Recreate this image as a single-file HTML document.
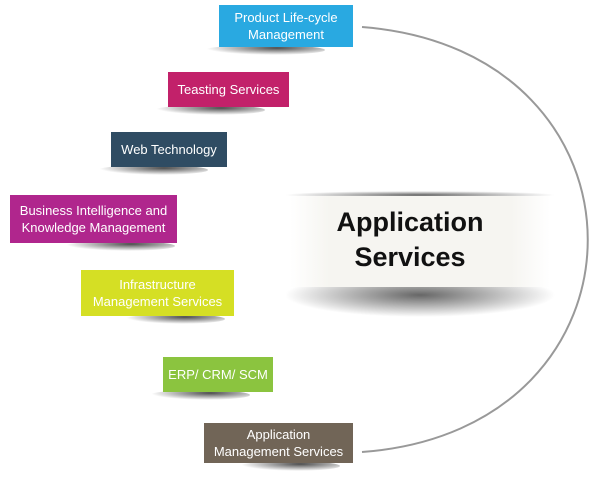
<!DOCTYPE html>
<html><head><meta charset="utf-8"><style>
body{margin:0;width:592px;height:482px;background:#fff;position:relative;overflow:hidden;font-family:"Liberation Sans",sans-serif}
.b{position:absolute;color:#fff;font-size:13px;line-height:17px;display:flex;align-items:center;justify-content:center;text-align:center;box-sizing:border-box}
.s{position:absolute;height:10px;border-radius:50%;background:radial-gradient(ellipse at 60% 30%,rgba(0,0,0,.7),rgba(0,0,0,0) 70%)}
</style></head><body>
<svg width="592" height="482" style="position:absolute;left:0;top:0">
<path d="M362,27 C 663,50 663,430 362,452" fill="none" stroke="#999" stroke-width="2"/>
<defs>
<radialGradient id="g1" cx="0.5" cy="0.5" r="0.5"><stop offset="0" stop-color="#000" stop-opacity=".6"/><stop offset="1" stop-color="#000" stop-opacity="0"/></radialGradient>
<linearGradient id="pg" x1="0" x2="1"><stop offset="0" stop-color="#fff"/><stop offset=".15" stop-color="#f6f5f1"/><stop offset=".85" stop-color="#f6f5f1"/><stop offset="1" stop-color="#fff"/></linearGradient>
</defs>
<ellipse cx="420" cy="195" rx="135" ry="4" fill="url(#g1)"/>
<ellipse cx="420" cy="295" rx="135" ry="22" fill="url(#g1)"/>
<rect x="290" y="196" width="260" height="91" fill="url(#pg)"/>
<text x="410" y="231" text-anchor="middle" font-family="Liberation Sans" font-weight="bold" font-size="27" fill="#111">Application</text>
<text x="410" y="266" text-anchor="middle" font-family="Liberation Sans" font-weight="bold" font-size="27" fill="#111">Services</text>
</svg>
<div class="s" style="left:205px;top:45px;width:120px"></div>
<div class="b" style="left:219px;top:5px;width:134px;height:42px;background:#29a9e1">Product Life-cycle<br>Management</div>
<div class="s" style="left:155px;top:105px;width:110px"></div>
<div class="b" style="left:168px;top:72px;width:121px;height:35px;background:#c2216a">Teasting Services</div>
<div class="s" style="left:98px;top:165px;width:110px"></div>
<div class="b" style="left:111px;top:132px;width:116px;height:35px;background:#2f4c63">Web Technology</div>
<div class="s" style="left:65px;top:241px;width:110px"></div>
<div class="b" style="left:10px;top:195px;width:167px;height:48px;background:#b0268d">Business Intelligence and<br>Knowledge Management</div>
<div class="s" style="left:125px;top:314px;width:100px"></div>
<div class="b" style="left:81px;top:270px;width:153px;height:46px;background:#d5df24">Infrastructure<br>Management Services</div>
<div class="s" style="left:150px;top:390px;width:100px"></div>
<div class="b" style="left:163px;top:357px;width:110px;height:35px;background:#8bc43f">ERP/ CRM/ SCM</div>
<div class="s" style="left:240px;top:461px;width:100px"></div>
<div class="b" style="left:204px;top:423px;width:149px;height:40px;background:#716557">Application<br>Management Services</div>
</body></html>
